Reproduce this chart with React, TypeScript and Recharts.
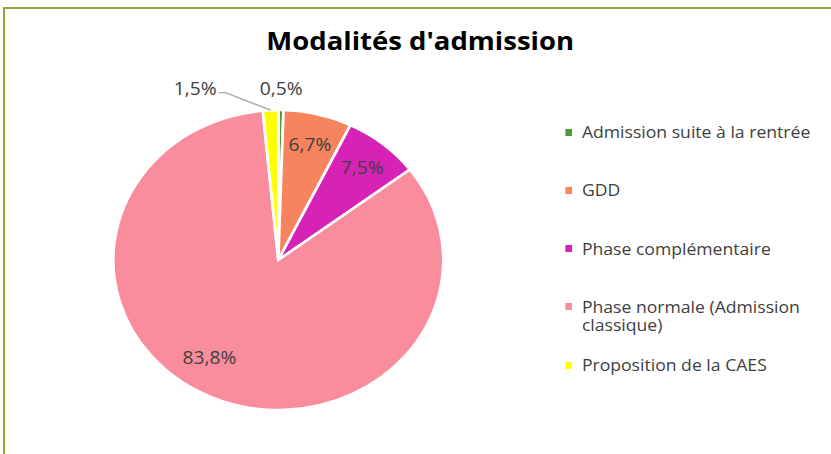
import { PieChart, Pie, Cell, Legend } from 'recharts'

const categories = [
  'Admission suite à la rentrée',
  'GDD',
  'Phase complémentaire',
  'Phase normale (Admission classique)',
  'Proposition de la CAES',
]
const shares = [0.5, 6.7, 7.5, 83.8, 1.5]
const colors = ['#4E9A3A', '#F5845F', '#D723B5', '#F98D9E', '#FFFF00']

const data = categories.map((name, i) => ({ name, value: shares[i] }))

const RAD = Math.PI / 180
const FONT = '"Open Sans", sans-serif'
const fmt = (v: number) => v.toFixed(1).replace('.', ',') + '%'

// picture is a bit wider than tall, so draw at 1/1.1 and stretch
const SX = 1.1
const W = Math.round(831 / SX)
const H = 454

function renderLabel(props: any) {
  const { cx, cy, midAngle, outerRadius, value } = props
  const style = { fontSize: 17.5, fill: '#404040', fontFamily: FONT }
  if (value > 5) {
    // big slice label sits a bit further round, like excel's best fit
    const a = value > 50 ? midAngle - 9 : midAngle
    const r = outerRadius * (value > 50 ? 0.77 : 0.8)
    const x = cx + r * Math.cos(-a * RAD)
    const y = cy + r * Math.sin(-a * RAD)
    return (
      <text x={x} y={y} textAnchor="middle" dominantBaseline="central" style={style}>
        {fmt(value)}
      </text>
    )
  }
  const cos = Math.cos(-midAngle * RAD)
  const sin = Math.sin(-midAngle * RAD)
  const r = outerRadius * 1.15
  if (cos < 0) {
    // left of twelve o'clock: pushed aside with a leader line
    const ex = cx + outerRadius * cos
    const ey = cy + outerRadius * sin
    const ly = cy + r * sin + 5
    const lx = cx - 54
    return (
      <g>
        <polyline
          points={`${lx},${ly} ${lx + 6},${ly} ${ex},${ey}`}
          fill="none"
          stroke="#A6A6A6"
          strokeWidth={1.3}
        />
        <text x={lx - 2} y={ly - 5} textAnchor="end" dominantBaseline="central" style={style}>
          {fmt(value)}
        </text>
      </g>
    )
  }
  return (
    <text x={cx + r * cos} y={cy + r * sin} textAnchor="middle" dominantBaseline="central" style={style}>
      {fmt(value)}
    </text>
  )
}

function LegendList() {
  return (
    <div style={{ fontFamily: FONT, fontSize: 16, color: '#404040', width: 232 }}>
      {categories.map((c, i) => (
        <div key={c} style={{ position: 'relative', height: 58.25, paddingLeft: 15, lineHeight: '18px' }}>
          <span
            style={{
              position: 'absolute',
              left: 0,
              top: 5.5,
              width: 6,
              height: 7,
              background: colors[i],
            }}
          />
          {c}
        </div>
      ))}
    </div>
  )
}

export default function App() {
  return (
    <div style={{ position: 'absolute', left: 0, top: 0, width: 831, height: 454, background: '#fff', overflow: 'hidden' }}>
      <div
        style={{
          position: 'absolute',
          left: 3,
          top: 7,
          right: 0,
          bottom: 0,
          borderTop: '2px solid #95A53C',
          borderLeft: '2px solid #95A53C',
        }}
      />
      <div
        style={{
          position: 'absolute',
          left: 0,
          top: 0,
          width: W,
          height: H,
          transform: `scaleX(${SX})`,
          transformOrigin: '0 0',
        }}
      >
        <div
          style={{
            position: 'absolute',
            left: 0,
            width: 764,
            top: 23,
            textAlign: 'center',
            fontFamily: FONT,
            fontWeight: 700,
            fontSize: 25,
            color: '#000',
          }}
        >
          Modalités d'admission
        </div>
        <PieChart width={W} height={H}>
          <Pie
            data={data}
            dataKey="value"
            nameKey="name"
            cx={248}
            cy={255}
            outerRadius={150}
            startAngle={90}
            endAngle={-270}
            stroke="#fff"
            strokeWidth={2.5}
            label={renderLabel}
            labelLine={false}
            isAnimationActive={false}
          >
            {data.map((d, i) => (
              <Cell key={d.name} fill={colors[i]} />
            ))}
          </Pie>
          <Legend
            content={() => <LegendList />}
            wrapperStyle={{ position: 'absolute', left: 514, top: 123, width: 232 }}
          />
        </PieChart>
      </div>
    </div>
  )
}
